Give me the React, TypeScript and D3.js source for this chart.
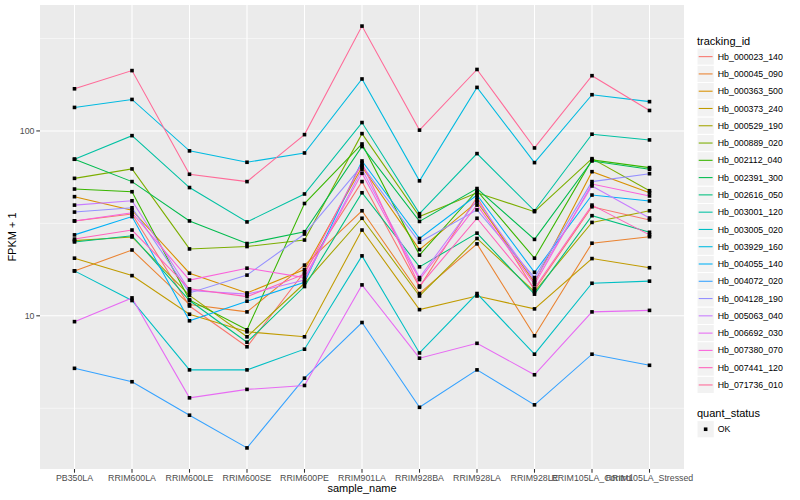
import React from 'react';
import * as d3 from 'd3';

const samples = [
  'PB350LA', 'RRIM600LA', 'RRIM600LE', 'RRIM600SE', 'RRIM600PE', 'RRIM901LA',
  'RRIM928BA', 'RRIM928LA', 'RRIM928LE', 'RRIM105LA_Control', 'RRIM105LA_Stressed',
];

const trackingIds = [
  'Hb_000023_140', 'Hb_000045_090', 'Hb_000363_500', 'Hb_000373_240', 'Hb_000529_190',
  'Hb_000889_020', 'Hb_002112_040', 'Hb_002391_300', 'Hb_002616_050', 'Hb_003001_120',
  'Hb_003005_020', 'Hb_003929_160', 'Hb_004055_140', 'Hb_004072_020', 'Hb_004128_190',
  'Hb_005063_040', 'Hb_006692_030', 'Hb_007380_070', 'Hb_007441_120', 'Hb_071736_010',
];

const hueColors = [
  '#F8766D', '#EA8331', '#D89000', '#C09B00', '#A3A500', '#7CAE00', '#39B600', '#00BB4E',
  '#00BF7D', '#00C1A3', '#00BFC4', '#00BAE0', '#00B0F6', '#35A2FF', '#9590FF', '#C77CFF',
  '#E76BF3', '#FA62DB', '#FF62BC', '#FF6A98',
];

// FPKM + 1 per sample (same order as samples)
const hb000023 = [32.6, 35.5, 11.3, 6.8, 17.3, 53.2, 14.3, 43.8, 13.8, 38.9, 33];
const hb000045 = [17.5, 22.7, 11.5, 10.5, 18.8, 37, 13.2, 24.5, 7.8, 24.7, 26.8];
const hb000363 = [44.1, 37.3, 17, 13.3, 17.8, 63.9, 22.8, 41.3, 15.2, 60.2, 46.3];
const hb000373 = [20.5, 16.5, 10.2, 8.2, 7.7, 29.1, 10.8, 12.8, 10.9, 20.4, 18.2];
const hb000529 = [25.5, 26.7, 12.9, 7.7, 15, 33.7, 12.8, 26.2, 13.5, 32, 37];
const hb000889 = [55.4, 62.3, 23, 23.7, 25.7, 96.7, 34.4, 46.3, 36.6, 70.8, 47.5];
const hb002112 = [48.5, 46.9, 12.2, 8.4, 40.5, 85, 21.3, 47.5, 20.5, 69.7, 63.3];
const hb002391 = [70.3, 53.2, 32.6, 24.6, 28.5, 82.4, 32.4, 48.8, 25.9, 68.8, 62];
const hb002616 = [25.1, 27.1, 12.1, 7.2, 14.4, 46.3, 18.4, 28, 13.1, 34.8, 28.3];
const hb003001 = [70.3, 94.3, 49.4, 32.2, 45.6, 111, 35.7, 75.4, 37, 96, 89.4];
const hb003005 = [17.5, 12.1, 5.1, 5.1, 6.6, 21.1, 6.3, 13.2, 6.2, 15, 15.4];
const hb003929 = [134, 148, 78, 67.7, 76, 191, 53.7, 172, 67.4, 157, 144];
const hb004055 = [27.4, 34.4, 9.4, 12.0, 15.2, 68.8, 26.2, 45, 17.2, 45, 41.8];
const hb004072 = [5.2, 4.4, 2.9, 1.93, 4.6, 9.2, 3.2, 5.1, 3.3, 6.2, 5.4];
const hb004128 = [36.4, 38.4, 13.3, 16.6, 27.7, 64.9, 25, 37.4, 16.1, 53.2, 58.7];
const hb005063 = [39.7, 41.9, 13.7, 13.1, 15.6, 62, 16.1, 42.3, 15.5, 50.4, 33.8];
const hb006692 = [9.3, 12.5, 3.6, 4.0, 4.2, 14.7, 5.9, 7.1, 4.8, 10.5, 10.7];
const hb007380 = [32.6, 36.1, 15.6, 18.1, 16.1, 59, 15.7, 39.7, 14.8, 51.6, 44.5];
const hb007441 = [26, 29.1, 14, 12.7, 16.8, 67.1, 14.5, 33.7, 14.1, 39.7, 27.4];
const hb071736 = [169, 212, 58.3, 53.2, 95.5, 369, 101, 215, 80.9, 199, 129];

const seriesValues = [
  hb000023, hb000045, hb000363, hb000373, hb000529, hb000889, hb002112, hb002391,
  hb002616, hb003001, hb003005, hb003929, hb004055, hb004072, hb004128, hb005063,
  hb006692, hb007380, hb007441, hb071736,
];

const majorTicks = [1, 10, 100, 1000];
const tickLabels = ['1', '10', '100', '1000'];
const minorTicks = [10 ** 0.5, 10 ** 1.5, 10 ** 2.5];

const FONT = '"Liberation Sans", Arial, Helvetica, sans-serif';

export default function App() {
  const W = 800;
  const H = 500;
  const panel = { left: 40, right: 684, top: 5, bottom: 469 };
  const all = seriesValues.flat();
  const lo = Math.log10(d3.min(all) as number);
  const hi = Math.log10(d3.max(all) as number);
  const pad = (hi - lo) * 0.05;
  const domain: [number, number] = [10 ** (lo - pad), 10 ** (hi + pad)];
  const y = d3.scaleLog().domain(domain).range([panel.bottom, panel.top]);
  const x = d3.scalePoint<string>().domain(samples).range([panel.left, panel.right]).padding(0.6);
  const inDom = (v: number) => v >= domain[0] && v <= domain[1];
  const line = d3
    .line<number>()
    .x((_, i) => x(samples[i]) as number)
    .y((d) => y(d));

  const legendX = 697;
  const keySize = 17.28;
  const legendTop = 48;
  const ptSize = 3.6;

  return (
    <svg width={W} height={H} style={{ position: 'absolute', left: 0, top: 0, background: '#fff' }} fontFamily={FONT}>
      <rect x={0} y={0} width={W} height={H} fill="#fff" />
      <rect x={panel.left} y={panel.top} width={panel.right - panel.left} height={panel.bottom - panel.top} fill="#EBEBEB" />
      {minorTicks.filter(inDom).map((t, i) => (
        <line key={'mn' + i} x1={panel.left} x2={panel.right} y1={y(t)} y2={y(t)} stroke="#fff" strokeWidth={0.53} />
      ))}
      {majorTicks.filter(inDom).map((t, i) => (
        <line key={'mj' + i} x1={panel.left} x2={panel.right} y1={y(t)} y2={y(t)} stroke="#fff" strokeWidth={1.07} />
      ))}
      {samples.map((s) => (
        <line key={'gx' + s} x1={x(s)} x2={x(s)} y1={panel.top} y2={panel.bottom} stroke="#fff" strokeWidth={1.07} />
      ))}
      {seriesValues.map((vals, i) => (
        <path key={'l' + i} d={line(vals) as string} fill="none" stroke={hueColors[i]} strokeWidth={1.07} />
      ))}
      {seriesValues.map((vals, i) =>
        vals.map((v, j) => (
          <rect
            key={'p' + i + '_' + j}
            x={(x(samples[j]) as number) - ptSize / 2}
            y={y(v) - ptSize / 2}
            width={ptSize}
            height={ptSize}
            fill="#000"
          />
        ))
      )}
      {/* y axis */}
      {majorTicks.map((t, i) =>
        inDom(t) ? (
          <g key={'yt' + i}>
            <line x1={panel.left - 3.7} x2={panel.left} y1={y(t)} y2={y(t)} stroke="#333" strokeWidth={1.07} />
            <text x={panel.left - 5.5} y={y(t)} dy="0.35em" textAnchor="end" fontSize={8.8} fill="#4D4D4D">
              {tickLabels[i]}
            </text>
          </g>
        ) : null
      )}
      {/* x axis */}
      {samples.map((s) => (
        <g key={'xt' + s}>
          <line x1={x(s)} x2={x(s)} y1={panel.bottom} y2={panel.bottom + 3.7} stroke="#333" strokeWidth={1.07} />
          <text x={x(s)} y={panel.bottom + 12.3} textAnchor="middle" fontSize={8.8} fill="#4D4D4D">
            {s}
          </text>
        </g>
      ))}
      <text x={(panel.left + panel.right) / 2} y={492} textAnchor="middle" fontSize={11} fill="#000">
        sample_name
      </text>
      <text
        transform={`translate(16,${(panel.top + panel.bottom) / 2}) rotate(-90)`}
        textAnchor="middle"
        fontSize={11}
        fill="#000"
      >
        FPKM + 1
      </text>
      {/* legend: tracking_id */}
      <text x={legendX} y={44.5} fontSize={11} fill="#000">
        tracking_id
      </text>
      {trackingIds.map((id, i) => {
        const ky = legendTop + i * keySize;
        return (
          <g key={'lg' + id}>
            <rect x={legendX} y={ky} width={keySize} height={keySize} fill="#F2F2F2" stroke="#fff" strokeWidth={1} />
            <line x1={legendX + 1.7} x2={legendX + keySize - 1.7} y1={ky + keySize / 2} y2={ky + keySize / 2} stroke={hueColors[i]} strokeWidth={1.07} />
            <text x={legendX + keySize + 3.5} y={ky + keySize / 2} dy="0.35em" fontSize={8.8} fill="#000">
              {id}
            </text>
          </g>
        );
      })}
      {/* legend: quant_status */}
      <text x={legendX} y={416.5} fontSize={11} fill="#000">
        quant_status
      </text>
      <rect x={legendX} y={420.6} width={keySize} height={keySize} fill="#F2F2F2" stroke="#fff" strokeWidth={1} />
      <rect x={legendX + keySize / 2 - ptSize / 2} y={420.6 + keySize / 2 - ptSize / 2} width={ptSize} height={ptSize} fill="#000" />
      <text x={legendX + keySize + 3.5} y={420.6 + keySize / 2} dy="0.35em" fontSize={8.8} fill="#000">
        OK
      </text>
    </svg>
  );
}
